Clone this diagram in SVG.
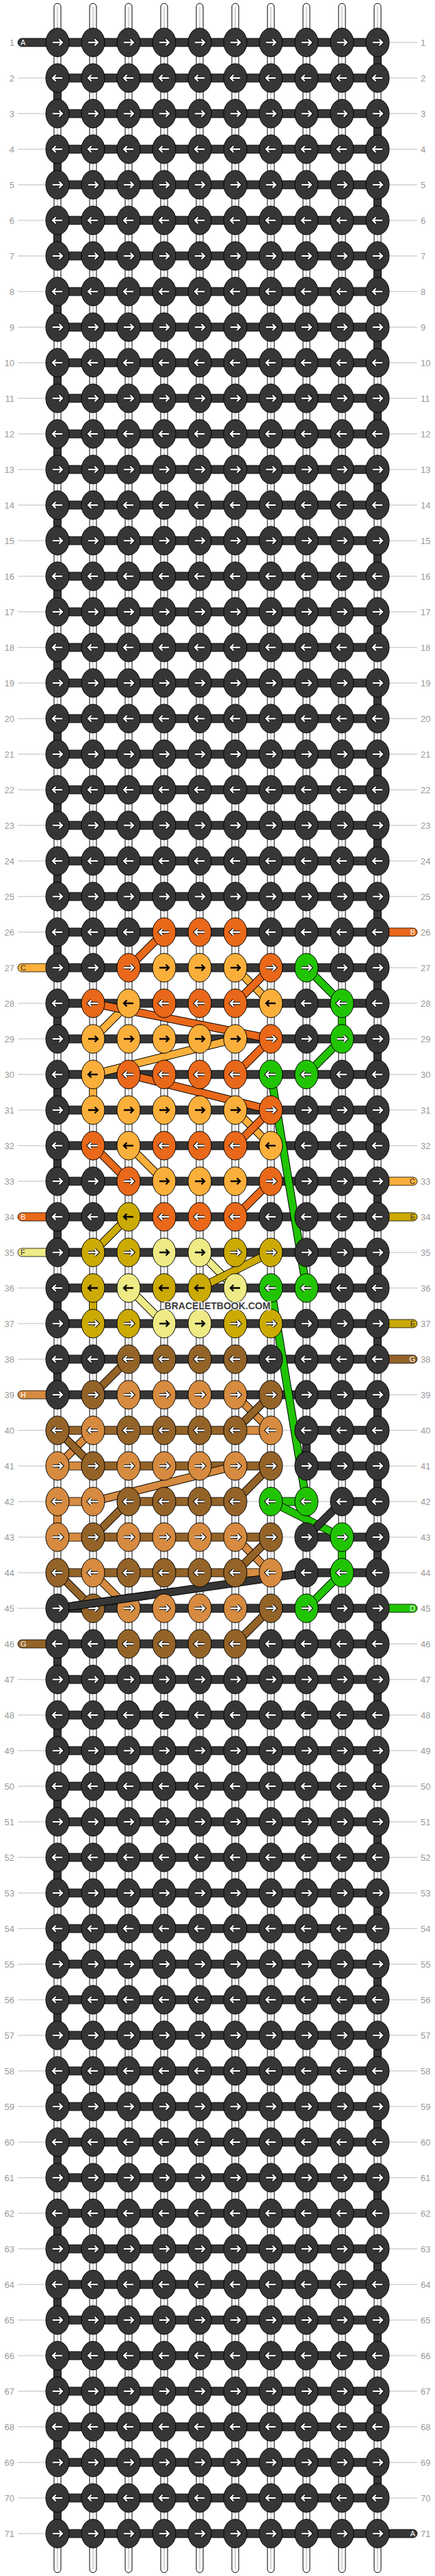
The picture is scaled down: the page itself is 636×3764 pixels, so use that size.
<svg xmlns="http://www.w3.org/2000/svg" width="636" height="3764" viewBox="0 0 636 3764">
<style>
.d{fill:#363636}.o{fill:#e9681a}.l{fill:#fbaf3b}.g{fill:#21c403}.y{fill:#ccaa04}.p{fill:#eeeb86}.b{fill:#946328}.t{fill:#d68b40}
.st rect{fill:#fff;stroke:#000;stroke-width:1}
.st line{stroke:#aaa;stroke-width:1}
.gl{stroke:#bbb;stroke-width:1;fill:none}
.num{font-family:"Liberation Sans",Arial,sans-serif;font-size:13px;fill:#999}
.bar,.vc,.tail{stroke:#000;stroke-width:.8}
.bo{stroke:#000;stroke-width:12;fill:none}
.bf{stroke-width:10;fill:none}
.so{stroke:#e9681a}.sl{stroke:#fbaf3b}.sg{stroke:#21c403}.sy{stroke:#ccaa04}.sp{stroke:#eeeb86}.sb{stroke:#946328}.stt{stroke:#d68b40}.sd{stroke:#363636}
.tl{font-family:"Liberation Sans",Arial,sans-serif;font-size:11px}
.wm{font-family:"Liberation Sans",Arial,sans-serif;font-size:14px;font-weight:bold;fill:#3c3c3c;stroke:#fff;stroke-width:3;stroke-opacity:.85;paint-order:stroke}
</style>
<defs>
<g id="R"><ellipse rx="17" ry="21" stroke="#000" stroke-width="1"/><path d="M-7,0H6M2.5,-4.5L7,0L2.5,4.5" fill="none" stroke="#000" stroke-width="4.4"/><path d="M-7,0H6M2.5,-4.5L7,0L2.5,4.5" fill="none" stroke="#fff" stroke-width="2.4"/></g>
<g id="L"><ellipse rx="17" ry="21" stroke="#000" stroke-width="1"/><path d="M7,0H-6M-2.5,-4.5L-7,0L-2.5,4.5" fill="none" stroke="#000" stroke-width="4.4"/><path d="M7,0H-6M-2.5,-4.5L-7,0L-2.5,4.5" fill="none" stroke="#fff" stroke-width="2.4"/></g>
<g id="K"><ellipse rx="17" ry="21" stroke="#000" stroke-width="1"/><path d="M-7,0H6M2.5,-4.5L7,0L2.5,4.5" fill="none" stroke="#000" stroke-width="2.4"/></g>
<g id="J"><ellipse rx="17" ry="21" stroke="#000" stroke-width="1"/><path d="M7,0H-6M-2.5,-4.5L-7,0L-2.5,4.5" fill="none" stroke="#000" stroke-width="2.4"/></g>
</defs>
<rect width="636" height="3764" fill="#fff"/>
<g id="guides">
<path class="gl" d="M26,62h584M26,114h584M26,166h584M26,218h584M26,270h584M26,322h584M26,374h584M26,426h584M26,478h584M26,530h584M26,582h584M26,634h584M26,686h584M26,738h584M26,790h584M26,842h584M26,894h584M26,946h584M26,998h584M26,1050h584M26,1102h584M26,1154h584M26,1206h584M26,1258h584M26,1310h584M26,1362h584M26,1414h584M26,1466h584M26,1518h584M26,1570h584M26,1622h584M26,1674h584M26,1726h584M26,1778h584M26,1830h584M26,1882h584M26,1934h584M26,1986h584M26,2038h584M26,2090h584M26,2142h584M26,2194h584M26,2246h584M26,2298h584M26,2350h584M26,2402h584M26,2454h584M26,2506h584M26,2558h584M26,2610h584M26,2662h584M26,2714h584M26,2766h584M26,2818h584M26,2870h584M26,2922h584M26,2974h584M26,3026h584M26,3078h584M26,3130h584M26,3182h584M26,3234h584M26,3286h584M26,3338h584M26,3390h584M26,3442h584M26,3494h584M26,3546h584M26,3598h584M26,3650h584M26,3702h584"/>
</g>
<g id="row-labels" class="num">
<g text-anchor="end">
<text x="21" y="67">1</text><text x="21" y="119">2</text><text x="21" y="171">3</text><text x="21" y="223">4</text><text x="21" y="275">5</text><text x="21" y="327">6</text><text x="21" y="379">7</text><text x="21" y="431">8</text><text x="21" y="483">9</text><text x="21" y="535">10</text><text x="21" y="587">11</text><text x="21" y="639">12</text><text x="21" y="691">13</text><text x="21" y="743">14</text><text x="21" y="795">15</text><text x="21" y="847">16</text><text x="21" y="899">17</text><text x="21" y="951">18</text><text x="21" y="1003">19</text><text x="21" y="1055">20</text><text x="21" y="1107">21</text><text x="21" y="1159">22</text><text x="21" y="1211">23</text><text x="21" y="1263">24</text><text x="21" y="1315">25</text><text x="21" y="1367">26</text><text x="21" y="1419">27</text><text x="21" y="1471">28</text><text x="21" y="1523">29</text><text x="21" y="1575">30</text><text x="21" y="1627">31</text><text x="21" y="1679">32</text><text x="21" y="1731">33</text><text x="21" y="1783">34</text><text x="21" y="1835">35</text><text x="21" y="1887">36</text><text x="21" y="1939">37</text><text x="21" y="1991">38</text><text x="21" y="2043">39</text><text x="21" y="2095">40</text><text x="21" y="2147">41</text><text x="21" y="2199">42</text><text x="21" y="2251">43</text><text x="21" y="2303">44</text><text x="21" y="2355">45</text><text x="21" y="2407">46</text><text x="21" y="2459">47</text><text x="21" y="2511">48</text><text x="21" y="2563">49</text><text x="21" y="2615">50</text><text x="21" y="2667">51</text><text x="21" y="2719">52</text><text x="21" y="2771">53</text><text x="21" y="2823">54</text><text x="21" y="2875">55</text><text x="21" y="2927">56</text><text x="21" y="2979">57</text><text x="21" y="3031">58</text><text x="21" y="3083">59</text><text x="21" y="3135">60</text><text x="21" y="3187">61</text><text x="21" y="3239">62</text><text x="21" y="3291">63</text><text x="21" y="3343">64</text><text x="21" y="3395">65</text><text x="21" y="3447">66</text><text x="21" y="3499">67</text><text x="21" y="3551">68</text><text x="21" y="3603">69</text><text x="21" y="3655">70</text><text x="21" y="3707">71</text>
</g>
<g text-anchor="start">
<text x="615" y="67">1</text><text x="615" y="119">2</text><text x="615" y="171">3</text><text x="615" y="223">4</text><text x="615" y="275">5</text><text x="615" y="327">6</text><text x="615" y="379">7</text><text x="615" y="431">8</text><text x="615" y="483">9</text><text x="615" y="535">10</text><text x="615" y="587">11</text><text x="615" y="639">12</text><text x="615" y="691">13</text><text x="615" y="743">14</text><text x="615" y="795">15</text><text x="615" y="847">16</text><text x="615" y="899">17</text><text x="615" y="951">18</text><text x="615" y="1003">19</text><text x="615" y="1055">20</text><text x="615" y="1107">21</text><text x="615" y="1159">22</text><text x="615" y="1211">23</text><text x="615" y="1263">24</text><text x="615" y="1315">25</text><text x="615" y="1367">26</text><text x="615" y="1419">27</text><text x="615" y="1471">28</text><text x="615" y="1523">29</text><text x="615" y="1575">30</text><text x="615" y="1627">31</text><text x="615" y="1679">32</text><text x="615" y="1731">33</text><text x="615" y="1783">34</text><text x="615" y="1835">35</text><text x="615" y="1887">36</text><text x="615" y="1939">37</text><text x="615" y="1991">38</text><text x="615" y="2043">39</text><text x="615" y="2095">40</text><text x="615" y="2147">41</text><text x="615" y="2199">42</text><text x="615" y="2251">43</text><text x="615" y="2303">44</text><text x="615" y="2355">45</text><text x="615" y="2407">46</text><text x="615" y="2459">47</text><text x="615" y="2511">48</text><text x="615" y="2563">49</text><text x="615" y="2615">50</text><text x="615" y="2667">51</text><text x="615" y="2719">52</text><text x="615" y="2771">53</text><text x="615" y="2823">54</text><text x="615" y="2875">55</text><text x="615" y="2927">56</text><text x="615" y="2979">57</text><text x="615" y="3031">58</text><text x="615" y="3083">59</text><text x="615" y="3135">60</text><text x="615" y="3187">61</text><text x="615" y="3239">62</text><text x="615" y="3291">63</text><text x="615" y="3343">64</text><text x="615" y="3395">65</text><text x="615" y="3447">66</text><text x="615" y="3499">67</text><text x="615" y="3551">68</text><text x="615" y="3603">69</text><text x="615" y="3655">70</text><text x="615" y="3707">71</text>
</g>
</g>
<g id="strands" class="st">
<rect x="79" y="5" width="10" height="3754" rx="5"/><line x1="84" y1="10" x2="84" y2="3754"/>
<rect x="131" y="5" width="10" height="3754" rx="5"/><line x1="136" y1="10" x2="136" y2="3754"/>
<rect x="183" y="5" width="10" height="3754" rx="5"/><line x1="188" y1="10" x2="188" y2="3754"/>
<rect x="235" y="5" width="10" height="3754" rx="5"/><line x1="240" y1="10" x2="240" y2="3754"/>
<rect x="287" y="5" width="10" height="3754" rx="5"/><line x1="292" y1="10" x2="292" y2="3754"/>
<rect x="339" y="5" width="10" height="3754" rx="5"/><line x1="344" y1="10" x2="344" y2="3754"/>
<rect x="391" y="5" width="10" height="3754" rx="5"/><line x1="396" y1="10" x2="396" y2="3754"/>
<rect x="443" y="5" width="10" height="3754" rx="5"/><line x1="448" y1="10" x2="448" y2="3754"/>
<rect x="495" y="5" width="10" height="3754" rx="5"/><line x1="500" y1="10" x2="500" y2="3754"/>
<rect x="547" y="5" width="10" height="3754" rx="5"/><line x1="552" y1="10" x2="552" y2="3754"/>
</g>
<g id="connectors">
<path class="vc d" d="M546.5,76h11v24h-11zM546.5,180h11v24h-11zM546.5,284h11v24h-11zM546.5,388h11v24h-11zM546.5,492h11v24h-11zM546.5,596h11v24h-11zM546.5,700h11v24h-11zM546.5,804h11v24h-11zM546.5,908h11v24h-11zM546.5,1012h11v24h-11zM546.5,1116h11v24h-11zM546.5,1220h11v24h-11zM546.5,1324h11v24h-11zM546.5,1428h11v24h-11zM546.5,1532h11v24h-11zM546.5,1636h11v24h-11zM546.5,1740h11v24h-11zM546.5,1844h11v24h-11zM546.5,1948h11v24h-11zM546.5,2052h11v24h-11zM546.5,2156h11v24h-11zM546.5,2260h11v24h-11zM546.5,2364h11v24h-11zM546.5,2468h11v24h-11zM546.5,2572h11v24h-11zM546.5,2676h11v24h-11zM546.5,2780h11v24h-11zM546.5,2884h11v24h-11zM546.5,2988h11v24h-11zM546.5,3092h11v24h-11zM546.5,3196h11v24h-11zM546.5,3300h11v24h-11zM546.5,3404h11v24h-11zM546.5,3508h11v24h-11zM546.5,3612h11v24h-11z
M78.5,128h11v24h-11zM78.5,232h11v24h-11zM78.5,336h11v24h-11zM78.5,440h11v24h-11zM78.5,544h11v24h-11zM78.5,648h11v24h-11zM78.5,752h11v24h-11zM78.5,856h11v24h-11zM78.5,960h11v24h-11zM78.5,1064h11v24h-11zM78.5,1168h11v24h-11zM78.5,1272h11v24h-11zM78.5,1376h11v24h-11zM78.5,1480h11v24h-11zM78.5,1584h11v24h-11zM78.5,1688h11v24h-11zM78.5,1792h11v24h-11zM78.5,1896h11v24h-11zM78.5,2000h11v24h-11zM78.5,2416h11v24h-11zM78.5,2520h11v24h-11zM78.5,2624h11v24h-11zM78.5,2728h11v24h-11zM78.5,2832h11v24h-11zM78.5,2936h11v24h-11zM78.5,3040h11v24h-11zM78.5,3144h11v24h-11zM78.5,3248h11v24h-11zM78.5,3352h11v24h-11zM78.5,3456h11v24h-11zM78.5,3560h11v24h-11zM78.5,3664h11v24h-11z
M442.5,2104h11v24h-11z"/>
<rect class="vc g" x="494.5" y="1480" width="11" height="24"/>
<rect class="vc l" x="130.5" y="1584" width="11" height="24"/>
<rect class="vc y" x="130.5" y="1896" width="11" height="24"/>
<rect class="vc t" x="78.5" y="2208" width="11" height="24"/>
<rect class="vc g" x="494.5" y="2260" width="11" height="24"/>
<path class="bar d" d="M84,56h468v12h-468zM84,108h468v12h-468zM84,160h468v12h-468zM84,212h468v12h-468zM84,264h468v12h-468zM84,316h468v12h-468zM84,368h468v12h-468zM84,420h468v12h-468zM84,472h468v12h-468zM84,524h468v12h-468zM84,576h468v12h-468zM84,628h468v12h-468zM84,680h468v12h-468zM84,732h468v12h-468zM84,784h468v12h-468zM84,836h468v12h-468zM84,888h468v12h-468zM84,940h468v12h-468zM84,992h468v12h-468zM84,1044h468v12h-468zM84,1096h468v12h-468zM84,1148h468v12h-468zM84,1200h468v12h-468zM84,1252h468v12h-468zM84,1304h468v12h-468zM84,1356h468v12h-468zM84,1408h468v12h-468zM84,1460h468v12h-468zM84,1512h468v12h-468zM84,1564h468v12h-468zM84,1616h468v12h-468zM84,1668h468v12h-468zM84,1720h468v12h-468zM84,1772h468v12h-468zM84,1824h468v12h-468zM84,1876h468v12h-468zM84,1928h468v12h-468zM84,1980h468v12h-468zM84,2032h468v12h-468zM84,2344h468v12h-468zM84,2396h468v12h-468zM84,2448h468v12h-468zM84,2500h468v12h-468zM84,2552h468v12h-468zM84,2604h468v12h-468zM84,2656h468v12h-468zM84,2708h468v12h-468zM84,2760h468v12h-468zM84,2812h468v12h-468zM84,2864h468v12h-468zM84,2916h468v12h-468zM84,2968h468v12h-468zM84,3020h468v12h-468zM84,3072h468v12h-468zM84,3124h468v12h-468zM84,3176h468v12h-468zM84,3228h468v12h-468zM84,3280h468v12h-468zM84,3332h468v12h-468zM84,3384h468v12h-468zM84,3436h468v12h-468zM84,3488h468v12h-468zM84,3540h468v12h-468zM84,3592h468v12h-468zM84,3644h468v12h-468zM84,3696h468v12h-468z
M448,2084h104v12h-104zM448,2136h104v12h-104zM500,2188h52v12h-52zM448,2240h104v12h-104zM448,2292h104v12h-104z"/>
<path class="bar b" d="M84,2084h260v12h-260zM136,2136h260v12h-260zM188,2188h156v12h-156zM136,2240h260v12h-260zM84,2292h260v12h-260z"/>
<path class="bar t" d="M344,2084h52v12h-52zM84,2136h52v12h-52zM84,2188h52v12h-52zM84,2240h52v12h-52zM344,2292h52v12h-52z"/>
<path class="bar g" d="M396,2188h52v12h-52z"/>
<g id="bands">
<path class="bo" d="M344,1414L396,1466M188,1466L136,1518M344,1518L136,1570M344,1622L396,1674M188,1674L240,1726"/>
<path class="bf sl" d="M344,1414L396,1466M188,1466L136,1518M344,1518L136,1570M344,1622L396,1674M188,1674L240,1726"/>
<path class="bo" d="M344,2038L396,2090M136,2090L84,2142M344,2142L136,2194M344,2246L396,2298M136,2298L188,2350"/>
<path class="bf stt" d="M344,2038L396,2090M136,2090L84,2142M344,2142L136,2194M344,2246L396,2298M136,2298L188,2350"/>
<path class="bo" d="M292,1830L344,1882M188,1882L240,1934"/>
<path class="bf sp" d="M292,1830L344,1882M188,1882L240,1934"/>
<path class="bo" d="M188,1778L136,1830M396,1830L292,1882"/>
<path class="bf sy" d="M188,1778L136,1830M396,1830L292,1882"/>
<path class="bo" d="M240,1362L188,1414M396,1414L344,1466M136,1466L396,1518M396,1518L344,1570M188,1570L396,1622M396,1622L344,1674M136,1674L188,1726M396,1726L344,1778"/>
<path class="bf so" d="M240,1362L188,1414M396,1414L344,1466M136,1466L396,1518M396,1518L344,1570M188,1570L396,1622M396,1622L344,1674M136,1674L188,1726M396,1726L344,1778"/>
<path class="bo" d="M188,1986L136,2038M396,2038L344,2090M84,2090L136,2142M396,2142L344,2194M188,2194L136,2246M396,2246L344,2298M84,2298L136,2350M396,2350L344,2402"/>
<path class="bf sb" d="M188,1986L136,2038M396,2038L344,2090M84,2090L136,2142M396,2142L344,2194M188,2194L136,2246M396,2246L344,2298M84,2298L136,2350M396,2350L344,2402"/>
<path class="bo" d="M448,1414L500,1466M500,1518L448,1570M396,1570L448,1882M396,1882L448,2194M396,2194L500,2246M500,2298L448,2350"/>
<path class="bf sg" d="M448,1414L500,1466M500,1518L448,1570M396,1570L448,1882M396,1882L448,2194M396,2194L500,2246M500,2298L448,2350"/>
<path class="bo" d="M500,2194L448,2246M448,2298L84,2350"/>
<path class="bf sd" d="M500,2194L448,2246M448,2298L84,2350"/>
</g>
<g id="tails" class="tl">
<rect class="tail d" x="26" y="56" width="64" height="12" rx="6"/><text x="30" y="66" fill="#fff">A</text>
<rect class="tail o" x="546" y="1356" width="64" height="12" rx="6"/><text x="607" y="1366" fill="#fff" text-anchor="end">B</text>
<rect class="tail l" x="26" y="1408" width="64" height="12" rx="6"/><text x="30" y="1418" fill="#333">C</text>
<rect class="tail l" x="546" y="1720" width="64" height="12" rx="6"/><text x="607" y="1730" fill="#333" text-anchor="end">C</text>
<rect class="tail o" x="26" y="1772" width="64" height="12" rx="6"/><text x="30" y="1782" fill="#fff">B</text>
<rect class="tail y" x="546" y="1772" width="64" height="12" rx="6"/><text x="607" y="1782" fill="#333" text-anchor="end">E</text>
<rect class="tail p" x="26" y="1824" width="64" height="12" rx="6"/><text x="30" y="1834" fill="#333">F</text>
<rect class="tail y" x="546" y="1928" width="64" height="12" rx="6"/><text x="607" y="1938" fill="#333" text-anchor="end">E</text>
<rect class="tail b" x="546" y="1980" width="64" height="12" rx="6"/><text x="607" y="1990" fill="#fff" text-anchor="end">G</text>
<rect class="tail t" x="26" y="2032" width="64" height="12" rx="6"/><text x="30" y="2042" fill="#fff">H</text>
<rect class="tail g" x="546" y="2344" width="64" height="12" rx="6"/><text x="607" y="2354" fill="#fff" text-anchor="end">D</text>
<rect class="tail b" x="26" y="2396" width="64" height="12" rx="6"/><text x="30" y="2406" fill="#fff">G</text>
<rect class="tail d" x="546" y="3696" width="64" height="12" rx="6"/><text x="607" y="3706" fill="#fff" text-anchor="end">A</text>
</g>
</g>
<g id="nodes">
<g class="d" transform="translate(0,62)"><g id="n1-1"><use href="#R" x="84"/></g><g id="n1-2"><use href="#R" x="136"/></g><g id="n1-3"><use href="#R" x="188"/></g><g id="n1-4"><use href="#R" x="240"/></g><g id="n1-5"><use href="#R" x="292"/></g><g id="n1-6"><use href="#R" x="344"/></g><g id="n1-7"><use href="#R" x="396"/></g><g id="n1-8"><use href="#R" x="448"/></g><g id="n1-9"><use href="#R" x="500"/></g><g id="n1-10"><use href="#R" x="552"/></g></g>
<g class="d" transform="translate(0,114)"><g id="n2-1"><use href="#L" x="84"/></g><g id="n2-2"><use href="#L" x="136"/></g><g id="n2-3"><use href="#L" x="188"/></g><g id="n2-4"><use href="#L" x="240"/></g><g id="n2-5"><use href="#L" x="292"/></g><g id="n2-6"><use href="#L" x="344"/></g><g id="n2-7"><use href="#L" x="396"/></g><g id="n2-8"><use href="#L" x="448"/></g><g id="n2-9"><use href="#L" x="500"/></g><g id="n2-10"><use href="#L" x="552"/></g></g>
<g class="d" transform="translate(0,166)"><g id="n3-1"><use href="#R" x="84"/></g><g id="n3-2"><use href="#R" x="136"/></g><g id="n3-3"><use href="#R" x="188"/></g><g id="n3-4"><use href="#R" x="240"/></g><g id="n3-5"><use href="#R" x="292"/></g><g id="n3-6"><use href="#R" x="344"/></g><g id="n3-7"><use href="#R" x="396"/></g><g id="n3-8"><use href="#R" x="448"/></g><g id="n3-9"><use href="#R" x="500"/></g><g id="n3-10"><use href="#R" x="552"/></g></g>
<g class="d" transform="translate(0,218)"><g id="n4-1"><use href="#L" x="84"/></g><g id="n4-2"><use href="#L" x="136"/></g><g id="n4-3"><use href="#L" x="188"/></g><g id="n4-4"><use href="#L" x="240"/></g><g id="n4-5"><use href="#L" x="292"/></g><g id="n4-6"><use href="#L" x="344"/></g><g id="n4-7"><use href="#L" x="396"/></g><g id="n4-8"><use href="#L" x="448"/></g><g id="n4-9"><use href="#L" x="500"/></g><g id="n4-10"><use href="#L" x="552"/></g></g>
<g class="d" transform="translate(0,270)"><g id="n5-1"><use href="#R" x="84"/></g><g id="n5-2"><use href="#R" x="136"/></g><g id="n5-3"><use href="#R" x="188"/></g><g id="n5-4"><use href="#R" x="240"/></g><g id="n5-5"><use href="#R" x="292"/></g><g id="n5-6"><use href="#R" x="344"/></g><g id="n5-7"><use href="#R" x="396"/></g><g id="n5-8"><use href="#R" x="448"/></g><g id="n5-9"><use href="#R" x="500"/></g><g id="n5-10"><use href="#R" x="552"/></g></g>
<g class="d" transform="translate(0,322)"><g id="n6-1"><use href="#L" x="84"/></g><g id="n6-2"><use href="#L" x="136"/></g><g id="n6-3"><use href="#L" x="188"/></g><g id="n6-4"><use href="#L" x="240"/></g><g id="n6-5"><use href="#L" x="292"/></g><g id="n6-6"><use href="#L" x="344"/></g><g id="n6-7"><use href="#L" x="396"/></g><g id="n6-8"><use href="#L" x="448"/></g><g id="n6-9"><use href="#L" x="500"/></g><g id="n6-10"><use href="#L" x="552"/></g></g>
<g class="d" transform="translate(0,374)"><g id="n7-1"><use href="#R" x="84"/></g><g id="n7-2"><use href="#R" x="136"/></g><g id="n7-3"><use href="#R" x="188"/></g><g id="n7-4"><use href="#R" x="240"/></g><g id="n7-5"><use href="#R" x="292"/></g><g id="n7-6"><use href="#R" x="344"/></g><g id="n7-7"><use href="#R" x="396"/></g><g id="n7-8"><use href="#R" x="448"/></g><g id="n7-9"><use href="#R" x="500"/></g><g id="n7-10"><use href="#R" x="552"/></g></g>
<g class="d" transform="translate(0,426)"><g id="n8-1"><use href="#L" x="84"/></g><g id="n8-2"><use href="#L" x="136"/></g><g id="n8-3"><use href="#L" x="188"/></g><g id="n8-4"><use href="#L" x="240"/></g><g id="n8-5"><use href="#L" x="292"/></g><g id="n8-6"><use href="#L" x="344"/></g><g id="n8-7"><use href="#L" x="396"/></g><g id="n8-8"><use href="#L" x="448"/></g><g id="n8-9"><use href="#L" x="500"/></g><g id="n8-10"><use href="#L" x="552"/></g></g>
<g class="d" transform="translate(0,478)"><g id="n9-1"><use href="#R" x="84"/></g><g id="n9-2"><use href="#R" x="136"/></g><g id="n9-3"><use href="#R" x="188"/></g><g id="n9-4"><use href="#R" x="240"/></g><g id="n9-5"><use href="#R" x="292"/></g><g id="n9-6"><use href="#R" x="344"/></g><g id="n9-7"><use href="#R" x="396"/></g><g id="n9-8"><use href="#R" x="448"/></g><g id="n9-9"><use href="#R" x="500"/></g><g id="n9-10"><use href="#R" x="552"/></g></g>
<g class="d" transform="translate(0,530)"><g id="n10-1"><use href="#L" x="84"/></g><g id="n10-2"><use href="#L" x="136"/></g><g id="n10-3"><use href="#L" x="188"/></g><g id="n10-4"><use href="#L" x="240"/></g><g id="n10-5"><use href="#L" x="292"/></g><g id="n10-6"><use href="#L" x="344"/></g><g id="n10-7"><use href="#L" x="396"/></g><g id="n10-8"><use href="#L" x="448"/></g><g id="n10-9"><use href="#L" x="500"/></g><g id="n10-10"><use href="#L" x="552"/></g></g>
<g class="d" transform="translate(0,582)"><g id="n11-1"><use href="#R" x="84"/></g><g id="n11-2"><use href="#R" x="136"/></g><g id="n11-3"><use href="#R" x="188"/></g><g id="n11-4"><use href="#R" x="240"/></g><g id="n11-5"><use href="#R" x="292"/></g><g id="n11-6"><use href="#R" x="344"/></g><g id="n11-7"><use href="#R" x="396"/></g><g id="n11-8"><use href="#R" x="448"/></g><g id="n11-9"><use href="#R" x="500"/></g><g id="n11-10"><use href="#R" x="552"/></g></g>
<g class="d" transform="translate(0,634)"><g id="n12-1"><use href="#L" x="84"/></g><g id="n12-2"><use href="#L" x="136"/></g><g id="n12-3"><use href="#L" x="188"/></g><g id="n12-4"><use href="#L" x="240"/></g><g id="n12-5"><use href="#L" x="292"/></g><g id="n12-6"><use href="#L" x="344"/></g><g id="n12-7"><use href="#L" x="396"/></g><g id="n12-8"><use href="#L" x="448"/></g><g id="n12-9"><use href="#L" x="500"/></g><g id="n12-10"><use href="#L" x="552"/></g></g>
<g class="d" transform="translate(0,686)"><g id="n13-1"><use href="#R" x="84"/></g><g id="n13-2"><use href="#R" x="136"/></g><g id="n13-3"><use href="#R" x="188"/></g><g id="n13-4"><use href="#R" x="240"/></g><g id="n13-5"><use href="#R" x="292"/></g><g id="n13-6"><use href="#R" x="344"/></g><g id="n13-7"><use href="#R" x="396"/></g><g id="n13-8"><use href="#R" x="448"/></g><g id="n13-9"><use href="#R" x="500"/></g><g id="n13-10"><use href="#R" x="552"/></g></g>
<g class="d" transform="translate(0,738)"><g id="n14-1"><use href="#L" x="84"/></g><g id="n14-2"><use href="#L" x="136"/></g><g id="n14-3"><use href="#L" x="188"/></g><g id="n14-4"><use href="#L" x="240"/></g><g id="n14-5"><use href="#L" x="292"/></g><g id="n14-6"><use href="#L" x="344"/></g><g id="n14-7"><use href="#L" x="396"/></g><g id="n14-8"><use href="#L" x="448"/></g><g id="n14-9"><use href="#L" x="500"/></g><g id="n14-10"><use href="#L" x="552"/></g></g>
<g class="d" transform="translate(0,790)"><g id="n15-1"><use href="#R" x="84"/></g><g id="n15-2"><use href="#R" x="136"/></g><g id="n15-3"><use href="#R" x="188"/></g><g id="n15-4"><use href="#R" x="240"/></g><g id="n15-5"><use href="#R" x="292"/></g><g id="n15-6"><use href="#R" x="344"/></g><g id="n15-7"><use href="#R" x="396"/></g><g id="n15-8"><use href="#R" x="448"/></g><g id="n15-9"><use href="#R" x="500"/></g><g id="n15-10"><use href="#R" x="552"/></g></g>
<g class="d" transform="translate(0,842)"><g id="n16-1"><use href="#L" x="84"/></g><g id="n16-2"><use href="#L" x="136"/></g><g id="n16-3"><use href="#L" x="188"/></g><g id="n16-4"><use href="#L" x="240"/></g><g id="n16-5"><use href="#L" x="292"/></g><g id="n16-6"><use href="#L" x="344"/></g><g id="n16-7"><use href="#L" x="396"/></g><g id="n16-8"><use href="#L" x="448"/></g><g id="n16-9"><use href="#L" x="500"/></g><g id="n16-10"><use href="#L" x="552"/></g></g>
<g class="d" transform="translate(0,894)"><g id="n17-1"><use href="#R" x="84"/></g><g id="n17-2"><use href="#R" x="136"/></g><g id="n17-3"><use href="#R" x="188"/></g><g id="n17-4"><use href="#R" x="240"/></g><g id="n17-5"><use href="#R" x="292"/></g><g id="n17-6"><use href="#R" x="344"/></g><g id="n17-7"><use href="#R" x="396"/></g><g id="n17-8"><use href="#R" x="448"/></g><g id="n17-9"><use href="#R" x="500"/></g><g id="n17-10"><use href="#R" x="552"/></g></g>
<g class="d" transform="translate(0,946)"><g id="n18-1"><use href="#L" x="84"/></g><g id="n18-2"><use href="#L" x="136"/></g><g id="n18-3"><use href="#L" x="188"/></g><g id="n18-4"><use href="#L" x="240"/></g><g id="n18-5"><use href="#L" x="292"/></g><g id="n18-6"><use href="#L" x="344"/></g><g id="n18-7"><use href="#L" x="396"/></g><g id="n18-8"><use href="#L" x="448"/></g><g id="n18-9"><use href="#L" x="500"/></g><g id="n18-10"><use href="#L" x="552"/></g></g>
<g class="d" transform="translate(0,998)"><g id="n19-1"><use href="#R" x="84"/></g><g id="n19-2"><use href="#R" x="136"/></g><g id="n19-3"><use href="#R" x="188"/></g><g id="n19-4"><use href="#R" x="240"/></g><g id="n19-5"><use href="#R" x="292"/></g><g id="n19-6"><use href="#R" x="344"/></g><g id="n19-7"><use href="#R" x="396"/></g><g id="n19-8"><use href="#R" x="448"/></g><g id="n19-9"><use href="#R" x="500"/></g><g id="n19-10"><use href="#R" x="552"/></g></g>
<g class="d" transform="translate(0,1050)"><g id="n20-1"><use href="#L" x="84"/></g><g id="n20-2"><use href="#L" x="136"/></g><g id="n20-3"><use href="#L" x="188"/></g><g id="n20-4"><use href="#L" x="240"/></g><g id="n20-5"><use href="#L" x="292"/></g><g id="n20-6"><use href="#L" x="344"/></g><g id="n20-7"><use href="#L" x="396"/></g><g id="n20-8"><use href="#L" x="448"/></g><g id="n20-9"><use href="#L" x="500"/></g><g id="n20-10"><use href="#L" x="552"/></g></g>
<g class="d" transform="translate(0,1102)"><g id="n21-1"><use href="#R" x="84"/></g><g id="n21-2"><use href="#R" x="136"/></g><g id="n21-3"><use href="#R" x="188"/></g><g id="n21-4"><use href="#R" x="240"/></g><g id="n21-5"><use href="#R" x="292"/></g><g id="n21-6"><use href="#R" x="344"/></g><g id="n21-7"><use href="#R" x="396"/></g><g id="n21-8"><use href="#R" x="448"/></g><g id="n21-9"><use href="#R" x="500"/></g><g id="n21-10"><use href="#R" x="552"/></g></g>
<g class="d" transform="translate(0,1154)"><g id="n22-1"><use href="#L" x="84"/></g><g id="n22-2"><use href="#L" x="136"/></g><g id="n22-3"><use href="#L" x="188"/></g><g id="n22-4"><use href="#L" x="240"/></g><g id="n22-5"><use href="#L" x="292"/></g><g id="n22-6"><use href="#L" x="344"/></g><g id="n22-7"><use href="#L" x="396"/></g><g id="n22-8"><use href="#L" x="448"/></g><g id="n22-9"><use href="#L" x="500"/></g><g id="n22-10"><use href="#L" x="552"/></g></g>
<g class="d" transform="translate(0,1206)"><g id="n23-1"><use href="#R" x="84"/></g><g id="n23-2"><use href="#R" x="136"/></g><g id="n23-3"><use href="#R" x="188"/></g><g id="n23-4"><use href="#R" x="240"/></g><g id="n23-5"><use href="#R" x="292"/></g><g id="n23-6"><use href="#R" x="344"/></g><g id="n23-7"><use href="#R" x="396"/></g><g id="n23-8"><use href="#R" x="448"/></g><g id="n23-9"><use href="#R" x="500"/></g><g id="n23-10"><use href="#R" x="552"/></g></g>
<g class="d" transform="translate(0,1258)"><g id="n24-1"><use href="#L" x="84"/></g><g id="n24-2"><use href="#L" x="136"/></g><g id="n24-3"><use href="#L" x="188"/></g><g id="n24-4"><use href="#L" x="240"/></g><g id="n24-5"><use href="#L" x="292"/></g><g id="n24-6"><use href="#L" x="344"/></g><g id="n24-7"><use href="#L" x="396"/></g><g id="n24-8"><use href="#L" x="448"/></g><g id="n24-9"><use href="#L" x="500"/></g><g id="n24-10"><use href="#L" x="552"/></g></g>
<g class="d" transform="translate(0,1310)"><g id="n25-1"><use href="#R" x="84"/></g><g id="n25-2"><use href="#R" x="136"/></g><g id="n25-3"><use href="#R" x="188"/></g><g id="n25-4"><use href="#R" x="240"/></g><g id="n25-5"><use href="#R" x="292"/></g><g id="n25-6"><use href="#R" x="344"/></g><g id="n25-7"><use href="#R" x="396"/></g><g id="n25-8"><use href="#R" x="448"/></g><g id="n25-9"><use href="#R" x="500"/></g><g id="n25-10"><use href="#R" x="552"/></g></g>
<g class="d" transform="translate(0,1362)"><g id="n26-1"><use href="#L" x="84"/></g><g id="n26-2"><use href="#L" x="136"/></g><g id="n26-3"><use href="#L" x="188"/></g><g id="n26-4"><use href="#L" x="240" class="o"/></g><g id="n26-5"><use href="#L" x="292" class="o"/></g><g id="n26-6"><use href="#L" x="344" class="o"/></g><g id="n26-7"><use href="#L" x="396"/></g><g id="n26-8"><use href="#L" x="448"/></g><g id="n26-9"><use href="#L" x="500"/></g><g id="n26-10"><use href="#L" x="552"/></g></g>
<g class="d" transform="translate(0,1414)"><g id="n27-1"><use href="#R" x="84"/></g><g id="n27-2"><use href="#R" x="136"/></g><g id="n27-3"><use href="#R" x="188" class="o"/></g><g id="n27-4"><use href="#K" x="240" class="l"/></g><g id="n27-5"><use href="#K" x="292" class="l"/></g><g id="n27-6"><use href="#K" x="344" class="l"/></g><g id="n27-7"><use href="#R" x="396" class="o"/></g><g id="n27-8"><use href="#R" x="448" class="g"/></g><g id="n27-9"><use href="#R" x="500"/></g><g id="n27-10"><use href="#R" x="552"/></g></g>
<g class="d" transform="translate(0,1466)"><g id="n28-1"><use href="#L" x="84"/></g><g id="n28-2"><use href="#L" x="136" class="o"/></g><g id="n28-3"><use href="#J" x="188" class="l"/></g><g id="n28-4"><use href="#L" x="240" class="o"/></g><g id="n28-5"><use href="#L" x="292" class="o"/></g><g id="n28-6"><use href="#L" x="344" class="o"/></g><g id="n28-7"><use href="#J" x="396" class="l"/></g><g id="n28-8"><use href="#L" x="448"/></g><g id="n28-9"><use href="#L" x="500" class="g"/></g><g id="n28-10"><use href="#L" x="552"/></g></g>
<g class="d" transform="translate(0,1518)"><g id="n29-1"><use href="#R" x="84"/></g><g id="n29-2"><use href="#K" x="136" class="l"/></g><g id="n29-3"><use href="#K" x="188" class="l"/></g><g id="n29-4"><use href="#K" x="240" class="l"/></g><g id="n29-5"><use href="#K" x="292" class="l"/></g><g id="n29-6"><use href="#K" x="344" class="l"/></g><g id="n29-7"><use href="#R" x="396" class="o"/></g><g id="n29-8"><use href="#R" x="448"/></g><g id="n29-9"><use href="#R" x="500" class="g"/></g><g id="n29-10"><use href="#R" x="552"/></g></g>
<g class="d" transform="translate(0,1570)"><g id="n30-1"><use href="#L" x="84"/></g><g id="n30-2"><use href="#J" x="136" class="l"/></g><g id="n30-3"><use href="#L" x="188" class="o"/></g><g id="n30-4"><use href="#L" x="240" class="o"/></g><g id="n30-5"><use href="#L" x="292" class="o"/></g><g id="n30-6"><use href="#L" x="344" class="o"/></g><g id="n30-7"><use href="#L" x="396" class="g"/></g><g id="n30-8"><use href="#L" x="448" class="g"/></g><g id="n30-9"><use href="#L" x="500"/></g><g id="n30-10"><use href="#L" x="552"/></g></g>
<g class="d" transform="translate(0,1622)"><g id="n31-1"><use href="#R" x="84"/></g><g id="n31-2"><use href="#K" x="136" class="l"/></g><g id="n31-3"><use href="#K" x="188" class="l"/></g><g id="n31-4"><use href="#K" x="240" class="l"/></g><g id="n31-5"><use href="#K" x="292" class="l"/></g><g id="n31-6"><use href="#K" x="344" class="l"/></g><g id="n31-7"><use href="#R" x="396" class="o"/></g><g id="n31-8"><use href="#R" x="448"/></g><g id="n31-9"><use href="#R" x="500"/></g><g id="n31-10"><use href="#R" x="552"/></g></g>
<g class="d" transform="translate(0,1674)"><g id="n32-1"><use href="#L" x="84"/></g><g id="n32-2"><use href="#L" x="136" class="o"/></g><g id="n32-3"><use href="#J" x="188" class="l"/></g><g id="n32-4"><use href="#L" x="240" class="o"/></g><g id="n32-5"><use href="#L" x="292" class="o"/></g><g id="n32-6"><use href="#L" x="344" class="o"/></g><g id="n32-7"><use href="#J" x="396" class="l"/></g><g id="n32-8"><use href="#L" x="448"/></g><g id="n32-9"><use href="#L" x="500"/></g><g id="n32-10"><use href="#L" x="552"/></g></g>
<g class="d" transform="translate(0,1726)"><g id="n33-1"><use href="#R" x="84"/></g><g id="n33-2"><use href="#R" x="136"/></g><g id="n33-3"><use href="#R" x="188" class="o"/></g><g id="n33-4"><use href="#K" x="240" class="l"/></g><g id="n33-5"><use href="#K" x="292" class="l"/></g><g id="n33-6"><use href="#K" x="344" class="l"/></g><g id="n33-7"><use href="#R" x="396" class="o"/></g><g id="n33-8"><use href="#R" x="448"/></g><g id="n33-9"><use href="#R" x="500"/></g><g id="n33-10"><use href="#R" x="552"/></g></g>
<g class="d" transform="translate(0,1778)"><g id="n34-1"><use href="#L" x="84"/></g><g id="n34-2"><use href="#L" x="136"/></g><g id="n34-3"><use href="#J" x="188" class="y"/></g><g id="n34-4"><use href="#L" x="240" class="o"/></g><g id="n34-5"><use href="#L" x="292" class="o"/></g><g id="n34-6"><use href="#L" x="344" class="o"/></g><g id="n34-7"><use href="#L" x="396"/></g><g id="n34-8"><use href="#L" x="448"/></g><g id="n34-9"><use href="#L" x="500"/></g><g id="n34-10"><use href="#L" x="552"/></g></g>
<g class="d" transform="translate(0,1830)"><g id="n35-1"><use href="#R" x="84"/></g><g id="n35-2"><use href="#R" x="136" class="y"/></g><g id="n35-3"><use href="#R" x="188" class="y"/></g><g id="n35-4"><use href="#K" x="240" class="p"/></g><g id="n35-5"><use href="#K" x="292" class="p"/></g><g id="n35-6"><use href="#R" x="344" class="y"/></g><g id="n35-7"><use href="#R" x="396" class="y"/></g><g id="n35-8"><use href="#R" x="448"/></g><g id="n35-9"><use href="#R" x="500"/></g><g id="n35-10"><use href="#R" x="552"/></g></g>
<g class="d" transform="translate(0,1882)"><g id="n36-1"><use href="#L" x="84"/></g><g id="n36-2"><use href="#J" x="136" class="y"/></g><g id="n36-3"><use href="#J" x="188" class="p"/></g><g id="n36-4"><use href="#J" x="240" class="y"/></g><g id="n36-5"><use href="#J" x="292" class="y"/></g><g id="n36-6"><use href="#J" x="344" class="p"/></g><g id="n36-7"><use href="#L" x="396" class="g"/></g><g id="n36-8"><use href="#L" x="448" class="g"/></g><g id="n36-9"><use href="#L" x="500"/></g><g id="n36-10"><use href="#L" x="552"/></g></g>
<g class="d" transform="translate(0,1934)"><g id="n37-1"><use href="#R" x="84"/></g><g id="n37-2"><use href="#R" x="136" class="y"/></g><g id="n37-3"><use href="#R" x="188" class="y"/></g><g id="n37-4"><use href="#K" x="240" class="p"/></g><g id="n37-5"><use href="#K" x="292" class="p"/></g><g id="n37-6"><use href="#R" x="344" class="y"/></g><g id="n37-7"><use href="#R" x="396" class="y"/></g><g id="n37-8"><use href="#R" x="448"/></g><g id="n37-9"><use href="#R" x="500"/></g><g id="n37-10"><use href="#R" x="552"/></g></g>
<g class="d" transform="translate(0,1986)"><g id="n38-1"><use href="#L" x="84"/></g><g id="n38-2"><use href="#L" x="136"/></g><g id="n38-3"><use href="#L" x="188" class="b"/></g><g id="n38-4"><use href="#L" x="240" class="b"/></g><g id="n38-5"><use href="#L" x="292" class="b"/></g><g id="n38-6"><use href="#L" x="344" class="b"/></g><g id="n38-7"><use href="#L" x="396"/></g><g id="n38-8"><use href="#L" x="448"/></g><g id="n38-9"><use href="#L" x="500"/></g><g id="n38-10"><use href="#L" x="552"/></g></g>
<g class="d" transform="translate(0,2038)"><g id="n39-1"><use href="#R" x="84"/></g><g id="n39-2"><use href="#R" x="136" class="b"/></g><g id="n39-3"><use href="#R" x="188" class="t"/></g><g id="n39-4"><use href="#R" x="240" class="t"/></g><g id="n39-5"><use href="#R" x="292" class="t"/></g><g id="n39-6"><use href="#R" x="344" class="t"/></g><g id="n39-7"><use href="#R" x="396" class="b"/></g><g id="n39-8"><use href="#R" x="448"/></g><g id="n39-9"><use href="#R" x="500"/></g><g id="n39-10"><use href="#R" x="552"/></g></g>
<g class="d" transform="translate(0,2090)"><g id="n40-1"><use href="#L" x="84" class="b"/></g><g id="n40-2"><use href="#L" x="136" class="t"/></g><g id="n40-3"><use href="#L" x="188" class="b"/></g><g id="n40-4"><use href="#L" x="240" class="b"/></g><g id="n40-5"><use href="#L" x="292" class="b"/></g><g id="n40-6"><use href="#L" x="344" class="b"/></g><g id="n40-7"><use href="#L" x="396" class="t"/></g><g id="n40-8"><use href="#L" x="448"/></g><g id="n40-9"><use href="#L" x="500"/></g><g id="n40-10"><use href="#L" x="552"/></g></g>
<g class="d" transform="translate(0,2142)"><g id="n41-1"><use href="#R" x="84" class="t"/></g><g id="n41-2"><use href="#R" x="136" class="b"/></g><g id="n41-3"><use href="#R" x="188" class="t"/></g><g id="n41-4"><use href="#R" x="240" class="t"/></g><g id="n41-5"><use href="#R" x="292" class="t"/></g><g id="n41-6"><use href="#R" x="344" class="t"/></g><g id="n41-7"><use href="#R" x="396" class="b"/></g><g id="n41-8"><use href="#R" x="448"/></g><g id="n41-9"><use href="#R" x="500"/></g><g id="n41-10"><use href="#R" x="552"/></g></g>
<g class="d" transform="translate(0,2194)"><g id="n42-1"><use href="#L" x="84" class="t"/></g><g id="n42-2"><use href="#L" x="136" class="t"/></g><g id="n42-3"><use href="#L" x="188" class="b"/></g><g id="n42-4"><use href="#L" x="240" class="b"/></g><g id="n42-5"><use href="#L" x="292" class="b"/></g><g id="n42-6"><use href="#L" x="344" class="b"/></g><g id="n42-7"><use href="#L" x="396" class="g"/></g><g id="n42-8"><use href="#L" x="448" class="g"/></g><g id="n42-9"><use href="#L" x="500"/></g><g id="n42-10"><use href="#L" x="552"/></g></g>
<g class="d" transform="translate(0,2246)"><g id="n43-1"><use href="#R" x="84" class="t"/></g><g id="n43-2"><use href="#R" x="136" class="b"/></g><g id="n43-3"><use href="#R" x="188" class="t"/></g><g id="n43-4"><use href="#R" x="240" class="t"/></g><g id="n43-5"><use href="#R" x="292" class="t"/></g><g id="n43-6"><use href="#R" x="344" class="t"/></g><g id="n43-7"><use href="#R" x="396" class="b"/></g><g id="n43-8"><use href="#R" x="448"/></g><g id="n43-9"><use href="#R" x="500" class="g"/></g><g id="n43-10"><use href="#R" x="552"/></g></g>
<g class="d" transform="translate(0,2298)"><g id="n44-1"><use href="#L" x="84" class="b"/></g><g id="n44-2"><use href="#L" x="136" class="t"/></g><g id="n44-3"><use href="#L" x="188" class="b"/></g><g id="n44-4"><use href="#L" x="240" class="b"/></g><g id="n44-5"><use href="#L" x="292" class="b"/></g><g id="n44-6"><use href="#L" x="344" class="b"/></g><g id="n44-7"><use href="#L" x="396" class="t"/></g><g id="n44-8"><use href="#L" x="448"/></g><g id="n44-9"><use href="#L" x="500" class="g"/></g><g id="n44-10"><use href="#L" x="552"/></g></g>
<g class="d" transform="translate(0,2350)"><g id="n45-1"><use href="#R" x="84"/></g><g id="n45-2"><use href="#R" x="136" class="b"/></g><g id="n45-3"><use href="#R" x="188" class="t"/></g><g id="n45-4"><use href="#R" x="240" class="t"/></g><g id="n45-5"><use href="#R" x="292" class="t"/></g><g id="n45-6"><use href="#R" x="344" class="t"/></g><g id="n45-7"><use href="#R" x="396" class="b"/></g><g id="n45-8"><use href="#R" x="448" class="g"/></g><g id="n45-9"><use href="#R" x="500"/></g><g id="n45-10"><use href="#R" x="552"/></g></g>
<g class="d" transform="translate(0,2402)"><g id="n46-1"><use href="#L" x="84"/></g><g id="n46-2"><use href="#L" x="136"/></g><g id="n46-3"><use href="#L" x="188" class="b"/></g><g id="n46-4"><use href="#L" x="240" class="b"/></g><g id="n46-5"><use href="#L" x="292" class="b"/></g><g id="n46-6"><use href="#L" x="344" class="b"/></g><g id="n46-7"><use href="#L" x="396"/></g><g id="n46-8"><use href="#L" x="448"/></g><g id="n46-9"><use href="#L" x="500"/></g><g id="n46-10"><use href="#L" x="552"/></g></g>
<g class="d" transform="translate(0,2454)"><g id="n47-1"><use href="#R" x="84"/></g><g id="n47-2"><use href="#R" x="136"/></g><g id="n47-3"><use href="#R" x="188"/></g><g id="n47-4"><use href="#R" x="240"/></g><g id="n47-5"><use href="#R" x="292"/></g><g id="n47-6"><use href="#R" x="344"/></g><g id="n47-7"><use href="#R" x="396"/></g><g id="n47-8"><use href="#R" x="448"/></g><g id="n47-9"><use href="#R" x="500"/></g><g id="n47-10"><use href="#R" x="552"/></g></g>
<g class="d" transform="translate(0,2506)"><g id="n48-1"><use href="#L" x="84"/></g><g id="n48-2"><use href="#L" x="136"/></g><g id="n48-3"><use href="#L" x="188"/></g><g id="n48-4"><use href="#L" x="240"/></g><g id="n48-5"><use href="#L" x="292"/></g><g id="n48-6"><use href="#L" x="344"/></g><g id="n48-7"><use href="#L" x="396"/></g><g id="n48-8"><use href="#L" x="448"/></g><g id="n48-9"><use href="#L" x="500"/></g><g id="n48-10"><use href="#L" x="552"/></g></g>
<g class="d" transform="translate(0,2558)"><g id="n49-1"><use href="#R" x="84"/></g><g id="n49-2"><use href="#R" x="136"/></g><g id="n49-3"><use href="#R" x="188"/></g><g id="n49-4"><use href="#R" x="240"/></g><g id="n49-5"><use href="#R" x="292"/></g><g id="n49-6"><use href="#R" x="344"/></g><g id="n49-7"><use href="#R" x="396"/></g><g id="n49-8"><use href="#R" x="448"/></g><g id="n49-9"><use href="#R" x="500"/></g><g id="n49-10"><use href="#R" x="552"/></g></g>
<g class="d" transform="translate(0,2610)"><g id="n50-1"><use href="#L" x="84"/></g><g id="n50-2"><use href="#L" x="136"/></g><g id="n50-3"><use href="#L" x="188"/></g><g id="n50-4"><use href="#L" x="240"/></g><g id="n50-5"><use href="#L" x="292"/></g><g id="n50-6"><use href="#L" x="344"/></g><g id="n50-7"><use href="#L" x="396"/></g><g id="n50-8"><use href="#L" x="448"/></g><g id="n50-9"><use href="#L" x="500"/></g><g id="n50-10"><use href="#L" x="552"/></g></g>
<g class="d" transform="translate(0,2662)"><g id="n51-1"><use href="#R" x="84"/></g><g id="n51-2"><use href="#R" x="136"/></g><g id="n51-3"><use href="#R" x="188"/></g><g id="n51-4"><use href="#R" x="240"/></g><g id="n51-5"><use href="#R" x="292"/></g><g id="n51-6"><use href="#R" x="344"/></g><g id="n51-7"><use href="#R" x="396"/></g><g id="n51-8"><use href="#R" x="448"/></g><g id="n51-9"><use href="#R" x="500"/></g><g id="n51-10"><use href="#R" x="552"/></g></g>
<g class="d" transform="translate(0,2714)"><g id="n52-1"><use href="#L" x="84"/></g><g id="n52-2"><use href="#L" x="136"/></g><g id="n52-3"><use href="#L" x="188"/></g><g id="n52-4"><use href="#L" x="240"/></g><g id="n52-5"><use href="#L" x="292"/></g><g id="n52-6"><use href="#L" x="344"/></g><g id="n52-7"><use href="#L" x="396"/></g><g id="n52-8"><use href="#L" x="448"/></g><g id="n52-9"><use href="#L" x="500"/></g><g id="n52-10"><use href="#L" x="552"/></g></g>
<g class="d" transform="translate(0,2766)"><g id="n53-1"><use href="#R" x="84"/></g><g id="n53-2"><use href="#R" x="136"/></g><g id="n53-3"><use href="#R" x="188"/></g><g id="n53-4"><use href="#R" x="240"/></g><g id="n53-5"><use href="#R" x="292"/></g><g id="n53-6"><use href="#R" x="344"/></g><g id="n53-7"><use href="#R" x="396"/></g><g id="n53-8"><use href="#R" x="448"/></g><g id="n53-9"><use href="#R" x="500"/></g><g id="n53-10"><use href="#R" x="552"/></g></g>
<g class="d" transform="translate(0,2818)"><g id="n54-1"><use href="#L" x="84"/></g><g id="n54-2"><use href="#L" x="136"/></g><g id="n54-3"><use href="#L" x="188"/></g><g id="n54-4"><use href="#L" x="240"/></g><g id="n54-5"><use href="#L" x="292"/></g><g id="n54-6"><use href="#L" x="344"/></g><g id="n54-7"><use href="#L" x="396"/></g><g id="n54-8"><use href="#L" x="448"/></g><g id="n54-9"><use href="#L" x="500"/></g><g id="n54-10"><use href="#L" x="552"/></g></g>
<g class="d" transform="translate(0,2870)"><g id="n55-1"><use href="#R" x="84"/></g><g id="n55-2"><use href="#R" x="136"/></g><g id="n55-3"><use href="#R" x="188"/></g><g id="n55-4"><use href="#R" x="240"/></g><g id="n55-5"><use href="#R" x="292"/></g><g id="n55-6"><use href="#R" x="344"/></g><g id="n55-7"><use href="#R" x="396"/></g><g id="n55-8"><use href="#R" x="448"/></g><g id="n55-9"><use href="#R" x="500"/></g><g id="n55-10"><use href="#R" x="552"/></g></g>
<g class="d" transform="translate(0,2922)"><g id="n56-1"><use href="#L" x="84"/></g><g id="n56-2"><use href="#L" x="136"/></g><g id="n56-3"><use href="#L" x="188"/></g><g id="n56-4"><use href="#L" x="240"/></g><g id="n56-5"><use href="#L" x="292"/></g><g id="n56-6"><use href="#L" x="344"/></g><g id="n56-7"><use href="#L" x="396"/></g><g id="n56-8"><use href="#L" x="448"/></g><g id="n56-9"><use href="#L" x="500"/></g><g id="n56-10"><use href="#L" x="552"/></g></g>
<g class="d" transform="translate(0,2974)"><g id="n57-1"><use href="#R" x="84"/></g><g id="n57-2"><use href="#R" x="136"/></g><g id="n57-3"><use href="#R" x="188"/></g><g id="n57-4"><use href="#R" x="240"/></g><g id="n57-5"><use href="#R" x="292"/></g><g id="n57-6"><use href="#R" x="344"/></g><g id="n57-7"><use href="#R" x="396"/></g><g id="n57-8"><use href="#R" x="448"/></g><g id="n57-9"><use href="#R" x="500"/></g><g id="n57-10"><use href="#R" x="552"/></g></g>
<g class="d" transform="translate(0,3026)"><g id="n58-1"><use href="#L" x="84"/></g><g id="n58-2"><use href="#L" x="136"/></g><g id="n58-3"><use href="#L" x="188"/></g><g id="n58-4"><use href="#L" x="240"/></g><g id="n58-5"><use href="#L" x="292"/></g><g id="n58-6"><use href="#L" x="344"/></g><g id="n58-7"><use href="#L" x="396"/></g><g id="n58-8"><use href="#L" x="448"/></g><g id="n58-9"><use href="#L" x="500"/></g><g id="n58-10"><use href="#L" x="552"/></g></g>
<g class="d" transform="translate(0,3078)"><g id="n59-1"><use href="#R" x="84"/></g><g id="n59-2"><use href="#R" x="136"/></g><g id="n59-3"><use href="#R" x="188"/></g><g id="n59-4"><use href="#R" x="240"/></g><g id="n59-5"><use href="#R" x="292"/></g><g id="n59-6"><use href="#R" x="344"/></g><g id="n59-7"><use href="#R" x="396"/></g><g id="n59-8"><use href="#R" x="448"/></g><g id="n59-9"><use href="#R" x="500"/></g><g id="n59-10"><use href="#R" x="552"/></g></g>
<g class="d" transform="translate(0,3130)"><g id="n60-1"><use href="#L" x="84"/></g><g id="n60-2"><use href="#L" x="136"/></g><g id="n60-3"><use href="#L" x="188"/></g><g id="n60-4"><use href="#L" x="240"/></g><g id="n60-5"><use href="#L" x="292"/></g><g id="n60-6"><use href="#L" x="344"/></g><g id="n60-7"><use href="#L" x="396"/></g><g id="n60-8"><use href="#L" x="448"/></g><g id="n60-9"><use href="#L" x="500"/></g><g id="n60-10"><use href="#L" x="552"/></g></g>
<g class="d" transform="translate(0,3182)"><g id="n61-1"><use href="#R" x="84"/></g><g id="n61-2"><use href="#R" x="136"/></g><g id="n61-3"><use href="#R" x="188"/></g><g id="n61-4"><use href="#R" x="240"/></g><g id="n61-5"><use href="#R" x="292"/></g><g id="n61-6"><use href="#R" x="344"/></g><g id="n61-7"><use href="#R" x="396"/></g><g id="n61-8"><use href="#R" x="448"/></g><g id="n61-9"><use href="#R" x="500"/></g><g id="n61-10"><use href="#R" x="552"/></g></g>
<g class="d" transform="translate(0,3234)"><g id="n62-1"><use href="#L" x="84"/></g><g id="n62-2"><use href="#L" x="136"/></g><g id="n62-3"><use href="#L" x="188"/></g><g id="n62-4"><use href="#L" x="240"/></g><g id="n62-5"><use href="#L" x="292"/></g><g id="n62-6"><use href="#L" x="344"/></g><g id="n62-7"><use href="#L" x="396"/></g><g id="n62-8"><use href="#L" x="448"/></g><g id="n62-9"><use href="#L" x="500"/></g><g id="n62-10"><use href="#L" x="552"/></g></g>
<g class="d" transform="translate(0,3286)"><g id="n63-1"><use href="#R" x="84"/></g><g id="n63-2"><use href="#R" x="136"/></g><g id="n63-3"><use href="#R" x="188"/></g><g id="n63-4"><use href="#R" x="240"/></g><g id="n63-5"><use href="#R" x="292"/></g><g id="n63-6"><use href="#R" x="344"/></g><g id="n63-7"><use href="#R" x="396"/></g><g id="n63-8"><use href="#R" x="448"/></g><g id="n63-9"><use href="#R" x="500"/></g><g id="n63-10"><use href="#R" x="552"/></g></g>
<g class="d" transform="translate(0,3338)"><g id="n64-1"><use href="#L" x="84"/></g><g id="n64-2"><use href="#L" x="136"/></g><g id="n64-3"><use href="#L" x="188"/></g><g id="n64-4"><use href="#L" x="240"/></g><g id="n64-5"><use href="#L" x="292"/></g><g id="n64-6"><use href="#L" x="344"/></g><g id="n64-7"><use href="#L" x="396"/></g><g id="n64-8"><use href="#L" x="448"/></g><g id="n64-9"><use href="#L" x="500"/></g><g id="n64-10"><use href="#L" x="552"/></g></g>
<g class="d" transform="translate(0,3390)"><g id="n65-1"><use href="#R" x="84"/></g><g id="n65-2"><use href="#R" x="136"/></g><g id="n65-3"><use href="#R" x="188"/></g><g id="n65-4"><use href="#R" x="240"/></g><g id="n65-5"><use href="#R" x="292"/></g><g id="n65-6"><use href="#R" x="344"/></g><g id="n65-7"><use href="#R" x="396"/></g><g id="n65-8"><use href="#R" x="448"/></g><g id="n65-9"><use href="#R" x="500"/></g><g id="n65-10"><use href="#R" x="552"/></g></g>
<g class="d" transform="translate(0,3442)"><g id="n66-1"><use href="#L" x="84"/></g><g id="n66-2"><use href="#L" x="136"/></g><g id="n66-3"><use href="#L" x="188"/></g><g id="n66-4"><use href="#L" x="240"/></g><g id="n66-5"><use href="#L" x="292"/></g><g id="n66-6"><use href="#L" x="344"/></g><g id="n66-7"><use href="#L" x="396"/></g><g id="n66-8"><use href="#L" x="448"/></g><g id="n66-9"><use href="#L" x="500"/></g><g id="n66-10"><use href="#L" x="552"/></g></g>
<g class="d" transform="translate(0,3494)"><g id="n67-1"><use href="#R" x="84"/></g><g id="n67-2"><use href="#R" x="136"/></g><g id="n67-3"><use href="#R" x="188"/></g><g id="n67-4"><use href="#R" x="240"/></g><g id="n67-5"><use href="#R" x="292"/></g><g id="n67-6"><use href="#R" x="344"/></g><g id="n67-7"><use href="#R" x="396"/></g><g id="n67-8"><use href="#R" x="448"/></g><g id="n67-9"><use href="#R" x="500"/></g><g id="n67-10"><use href="#R" x="552"/></g></g>
<g class="d" transform="translate(0,3546)"><g id="n68-1"><use href="#L" x="84"/></g><g id="n68-2"><use href="#L" x="136"/></g><g id="n68-3"><use href="#L" x="188"/></g><g id="n68-4"><use href="#L" x="240"/></g><g id="n68-5"><use href="#L" x="292"/></g><g id="n68-6"><use href="#L" x="344"/></g><g id="n68-7"><use href="#L" x="396"/></g><g id="n68-8"><use href="#L" x="448"/></g><g id="n68-9"><use href="#L" x="500"/></g><g id="n68-10"><use href="#L" x="552"/></g></g>
<g class="d" transform="translate(0,3598)"><g id="n69-1"><use href="#R" x="84"/></g><g id="n69-2"><use href="#R" x="136"/></g><g id="n69-3"><use href="#R" x="188"/></g><g id="n69-4"><use href="#R" x="240"/></g><g id="n69-5"><use href="#R" x="292"/></g><g id="n69-6"><use href="#R" x="344"/></g><g id="n69-7"><use href="#R" x="396"/></g><g id="n69-8"><use href="#R" x="448"/></g><g id="n69-9"><use href="#R" x="500"/></g><g id="n69-10"><use href="#R" x="552"/></g></g>
<g class="d" transform="translate(0,3650)"><g id="n70-1"><use href="#L" x="84"/></g><g id="n70-2"><use href="#L" x="136"/></g><g id="n70-3"><use href="#L" x="188"/></g><g id="n70-4"><use href="#L" x="240"/></g><g id="n70-5"><use href="#L" x="292"/></g><g id="n70-6"><use href="#L" x="344"/></g><g id="n70-7"><use href="#L" x="396"/></g><g id="n70-8"><use href="#L" x="448"/></g><g id="n70-9"><use href="#L" x="500"/></g><g id="n70-10"><use href="#L" x="552"/></g></g>
<g class="d" transform="translate(0,3702)"><g id="n71-1"><use href="#R" x="84"/></g><g id="n71-2"><use href="#R" x="136"/></g><g id="n71-3"><use href="#R" x="188"/></g><g id="n71-4"><use href="#R" x="240"/></g><g id="n71-5"><use href="#R" x="292"/></g><g id="n71-6"><use href="#R" x="344"/></g><g id="n71-7"><use href="#R" x="396"/></g><g id="n71-8"><use href="#R" x="448"/></g><g id="n71-9"><use href="#R" x="500"/></g><g id="n71-10"><use href="#R" x="552"/></g></g>
</g>
<g id="band-overlay">
<path class="bo" d="M101.7,2347.5L214,2331.4"/>
<path class="bf sd" d="M101.7,2347.5L214,2331.4"/>
</g>
<text id="watermark" class="wm" x="318" y="1913" text-anchor="middle">BRACELETBOOK.COM</text>
</svg>
